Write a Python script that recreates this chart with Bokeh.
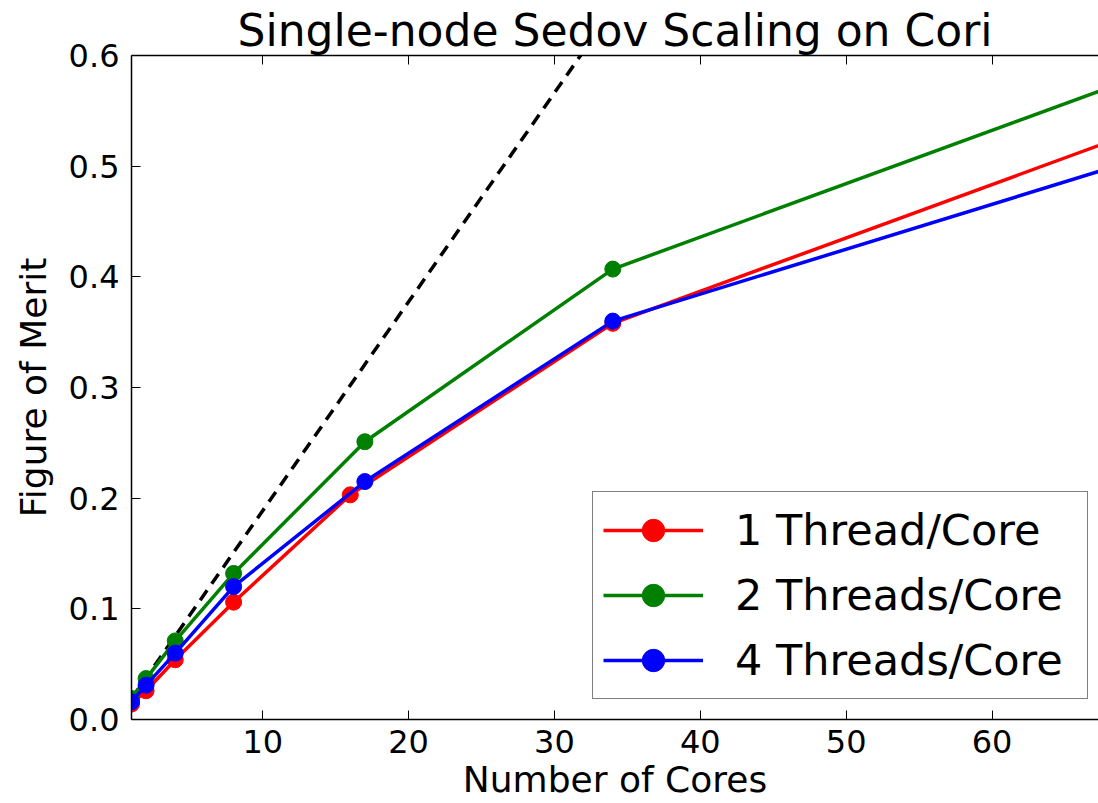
from bokeh.plotting import figure
from bokeh.models import Range1d, LinearAxis, FixedTicker, PrintfTickFormatter, Legend, LegendItem
from bokeh.embed import file_html
from bokeh.resources import INLINE

# ---- data ----
cores_1t = [1, 2, 4, 8, 16, 34, 68]
fom_1t = [0.014, 0.026, 0.054, 0.106, 0.203, 0.358, 0.522]

cores_2t = [1, 2, 4, 8, 17, 34, 68]
fom_2t = [0.019, 0.037, 0.071, 0.132, 0.251, 0.407, 0.571]

cores_4t = [1, 2, 4, 8, 17, 34, 68]
fom_4t = [0.016, 0.031, 0.060, 0.120, 0.215, 0.360, 0.498]

ideal_cores = [1, 2, 4, 8, 16, 32, 64]
ideal_fom = [0.0189, 0.0377, 0.0755, 0.151, 0.302, 0.604, 1.208]

x_ticks = [10, 20, 30, 40, 50, 60]
y_ticks = [0.0, 0.1, 0.2, 0.3, 0.4, 0.5, 0.6]

title_text = "Single-node Sedov Scaling on Cori"
x_label = "Number of Cores"
y_label = "Figure of Merit"
series_labels = ["1 Thread/Core", "2 Threads/Core", "4 Threads/Core"]

FONT = "DejaVu Sans"

p = figure(width=1098, height=803, output_backend="svg", toolbar_location=None,
           x_range=Range1d(1, 67.3), y_range=Range1d(0, 0.6),
           min_border_left=131, min_border_right=0, min_border_top=55, min_border_bottom=84)
p.title.text = title_text
p.title.text_font = FONT
p.title.text_font_size = "44px"
p.title.text_font_style = "normal"
p.title.text_color = "black"
p.title.align = "center"
p.title.standoff = 0
p.title.offset = 0

p.outline_line_color = None
p.xgrid.visible = False
p.ygrid.visible = False
p.background_fill_color = "white"
p.border_fill_color = "white"

def style_axis(ax):
    ax.axis_line_color = "black"
    ax.axis_line_width = 1.5
    ax.major_tick_in = 9
    ax.major_tick_out = 0
    ax.major_tick_line_color = "black"
    ax.major_tick_line_width = 1
    ax.minor_tick_line_color = None
    ax.major_label_text_font = FONT
    ax.major_label_text_font_size = "32px"
    ax.major_label_text_color = "black"
    ax.axis_label_text_font = FONT
    ax.axis_label_text_font_size = "36px"
    ax.axis_label_text_font_style = "normal"
    ax.axis_label_text_color = "black"

xa = p.xaxis[0]
ya = p.yaxis[0]
style_axis(xa)
style_axis(ya)
xa.ticker = FixedTicker(ticks=x_ticks)
ya.ticker = FixedTicker(ticks=y_ticks)
ya.formatter = PrintfTickFormatter(format="%.1f")
xa.axis_label = x_label
ya.axis_label = y_label
xa.major_label_standoff = 10
xa.axis_label_standoff = 3
ya.major_label_standoff = 12
ya.axis_label_standoff = 12

# top spine with inward ticks, no labels
top = LinearAxis(ticker=FixedTicker(ticks=x_ticks))
style_axis(top)
top.major_label_text_font_size = "1px"
top.major_label_text_color = None
top.major_label_standoff = 0
p.add_layout(top, "above")

# ideal scaling
p.line(ideal_cores, ideal_fom, line_color="black", line_width=3.5, line_dash="12 8")

colors = ["#ff0000", "#008000", "#0000ff"]
data = [(cores_1t, fom_1t), (cores_2t, fom_2t), (cores_4t, fom_4t)]
items = []
for (xs, ys), c, lab in zip(data, colors, series_labels):
    l = p.line(xs, ys, line_color=c, line_width=3.5)
    s = p.scatter(xs, ys, marker="circle", size=16, fill_color=c, line_color=c)
    items.append(LegendItem(label=lab, renderers=[l, s]))

legend = Legend(items=items, location=(461, 20))
legend.label_text_font = FONT
legend.label_text_font_size = "43px"
legend.label_text_color = "black"
legend.glyph_width = 100
legend.glyph_height = 56
legend.label_height = 56
legend.label_width = 342
legend.spacing = 9
legend.padding = 10
legend.label_standoff = 32
legend.margin = 0
legend.border_line_color = "black"
legend.border_line_width = 1.5
legend.background_fill_alpha = 1
p.add_layout(legend, "center")

open("out.html", "w").write(file_html(p, INLINE))
